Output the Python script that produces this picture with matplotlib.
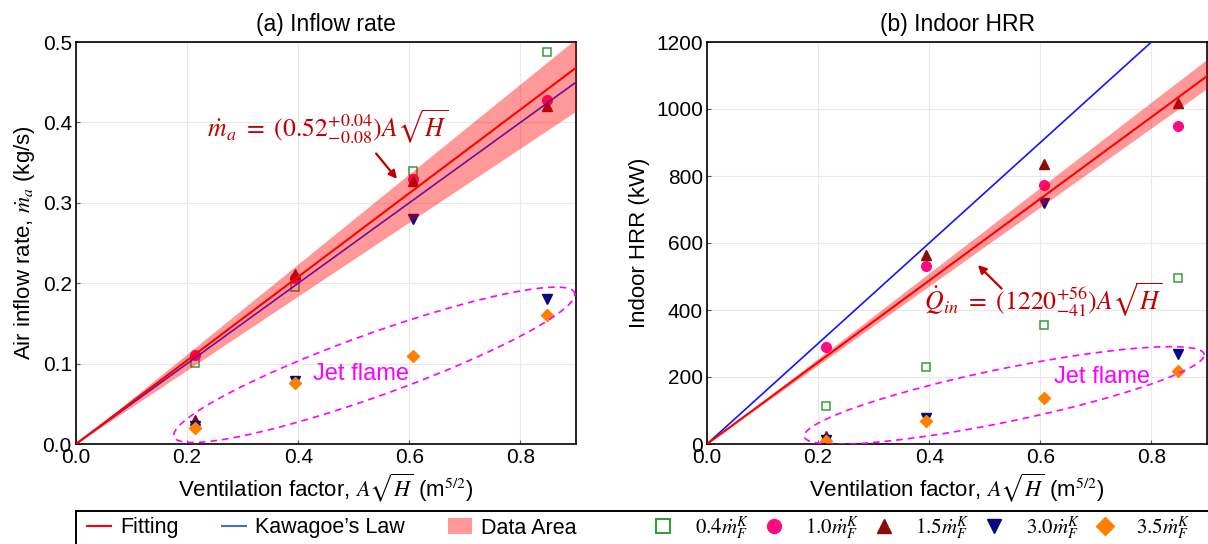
import numpy as np
import matplotlib
matplotlib.use("Agg")
import matplotlib.pyplot as plt
from matplotlib.lines import Line2D
from matplotlib.patches import Patch, Rectangle

plt.rcParams["font.family"] = ["Liberation Sans", "DejaVu Sans"]
plt.rcParams["mathtext.fontset"] = "stix"

# Ventilation factor A*sqrt(H) (m^5/2)
vf = [0.215, 0.395, 0.607, 0.848]

# (a) air inflow rate (kg/s)
ma_04 = [0.101, 0.195, 0.339, 0.488]
ma_10 = [0.111, 0.207, 0.330, 0.428]
ma_15 = [0.030, 0.211, 0.327, 0.420]
ma_30 = [0.022, 0.078, 0.280, 0.180]
ma_35 = [0.020, 0.076, 0.110, 0.161]

# (b) indoor HRR (kW)
q_04 = [113, 230, 355, 495]
q_10 = [289, 532, 773, 948]
q_15 = [24, 565, 835, 1018]
q_30 = [12, 78, 718, 269]
q_35 = [9, 69, 137, 219]

# fitted coefficients and Kawagoe's law
fit_a, fit_a_lo, fit_a_hi = 0.52, 0.46, 0.56
kaw_a = 0.5
fit_b, fit_b_lo, fit_b_hi = 1220, 1179, 1276
kaw_b = 1500

series_labels = [r"$0.4\dot{m}_F^K$", r"$1.0\dot{m}_F^K$", r"$1.5\dot{m}_F^K$",
                 r"$3.0\dot{m}_F^K$", r"$3.5\dot{m}_F^K$"]
styles = [
    dict(marker="s", mfc="none", mec="#3a9a3a", ms=6, mew=1.1),
    dict(marker="o", mfc="#ff0a7f", mec="#ff0a7f", ms=7),
    dict(marker="^", mfc="#8b0a0a", mec="#8b0a0a", ms=7),
    dict(marker="v", mfc="#0a0a80", mec="#0a0a80", ms=7),
    dict(marker="D", mfc="#ff8000", mec="#ff8000", ms=6.5),
]

RED = "#ff0000"
BAND = "#ff0000"
BLUE = "#1414ff"
DARKRED = "#c00000"
MAGENTA = "#ff00ff"

fig = plt.figure(figsize=(12.08, 5.44), dpi=100)
ax1 = fig.add_axes([76 / 1208, 100 / 544, 500 / 1208, 402 / 544])
ax2 = fig.add_axes([707 / 1208, 100 / 544, 500 / 1208, 402 / 544])

xx = np.linspace(0, 0.9, 50)


def draw_panel(ax, ys, fit, lo, hi, kaw):
    for y, st in zip(ys, styles):
        ax.plot(vf, y, ls="none", zorder=2, **st)
    ax.plot(xx, kaw * xx, color=BLUE, lw=1.2, zorder=3)
    ax.fill_between(xx, lo * xx, hi * xx, color=BAND, alpha=0.4, lw=0, zorder=4)
    ax.plot(xx, fit * xx, color=RED, lw=1.5, zorder=5)
    ax.grid(True, color="#e8e8e8", lw=0.8)
    ax.set_axisbelow(True)
    ax.tick_params(direction="in", length=3, labelsize=15, color="#555555", pad=3)
    for s in ax.spines.values():
        s.set_linewidth(1.2)
    ax.set_xlim(0, 0.9)
    ax.set_xticks([0.0, 0.2, 0.4, 0.6, 0.8])
    ax.set_xticklabels(["0.0", "0.2", "0.4", "0.6", "0.8"])
    ax.set_xlabel(r"Ventilation factor, $A\sqrt{H}$ (m$^{5/2}$)", fontsize=16, labelpad=3)


def jet_ellipse(ax, c, u, v):
    t = np.linspace(0, 2 * np.pi, 300)
    ex = c[0] + u[0] * np.cos(t) + v[0] * np.sin(t)
    ey = c[1] + u[1] * np.cos(t) + v[1] * np.sin(t)
    ax.plot(ex, ey, color=MAGENTA, lw=1.2, dashes=(4, 3), zorder=6)


draw_panel(ax1, [ma_04, ma_10, ma_15, ma_30, ma_35], fit_a, fit_a_lo, fit_a_hi, kaw_a)
ax1.set_ylim(0, 0.5)
ax1.set_yticks(np.arange(0, 0.51, 0.1))
ax1.set_yticklabels(["0.0", "0.1", "0.2", "0.3", "0.4", "0.5"])
ax1.set_ylabel(r"Air inflow rate, $\dot{m}_a$ (kg/s)", fontsize=16, labelpad=4)
ax1.set_title("(a) Inflow rate", fontsize=16.5, pad=8)
jet_ellipse(ax1, (0.537, 0.0985), (0.361, 0.0875), (0.0, 0.041))
ax1.text(0.513, 0.087, "Jet flame", color=MAGENTA, fontsize=17, ha="center", va="center")
ax1.text(0.236, 0.395, r"$\dot{m}_a\ =\ (0.52^{+0.04}_{-0.08})A\sqrt{H}$",
         color=DARKRED, fontsize=18.5, ha="left", va="center")
ax1.annotate("", xy=(0.581, 0.327), xytext=(0.537, 0.364),
             arrowprops=dict(arrowstyle="-|>", color=DARKRED, lw=1.6, mutation_scale=12))

draw_panel(ax2, [q_04, q_10, q_15, q_30, q_35], fit_b, fit_b_lo, fit_b_hi, kaw_b)
ax2.set_ylim(0, 1200)
ax2.set_yticks(np.arange(0, 1201, 200))
ax2.set_ylabel("Indoor HRR (kW)", fontsize=16, labelpad=4)
ax2.set_title("(b) Indoor HRR", fontsize=16.5, pad=8)
jet_ellipse(ax2, (0.535, 145), (0.36, 121), (0.0, 81))
ax2.text(0.711, 200, "Jet flame", color=MAGENTA, fontsize=17, ha="center", va="center")
ax2.text(0.39, 430, r"$\dot{Q}_{in}\ =\ (1220^{+56}_{-41})A\sqrt{H}$",
         color=DARKRED, fontsize=18.5, ha="left", va="center")
ax2.annotate("", xy=(0.484, 540), xytext=(0.534, 458),
             arrowprops=dict(arrowstyle="-|>", color=DARKRED, lw=1.6, mutation_scale=12))

# legend frame across the bottom
fig.patches.append(Rectangle((76 / 1208, -0.02), 1.0, 0.02 + 33 / 544, transform=fig.transFigure,
                             fill=False, ec="black", lw=1.4))

line_handles = [Line2D([], [], color=RED, lw=1.5),
                Line2D([], [], color="#4472c4", lw=1.5),
                Patch(fc="#ff9999", ec="none")]
fig.legend(line_handles, ["Fitting", "Kawagoe\u2019s Law", "Data Area"], ncol=3,
           loc="center left", bbox_to_anchor=(87 / 1208, 16 / 544), frameon=False,
           fontsize=15.5, handlelength=1.1, handletextpad=0.45, columnspacing=2.0,
           borderpad=0, borderaxespad=0)

mk_handles = []
for st in styles:
    s = dict(st)
    s["ms"] = 10 if st["marker"] != "D" else 9
    if st["marker"] == "s":
        s["mew"] = 1.5
    mk_handles.append(Line2D([], [], ls="none", **s))
fig.legend(mk_handles, series_labels, ncol=5,
           loc="center left", bbox_to_anchor=(653 / 1208, 16 / 544), frameon=False,
           fontsize=15, handlelength=1.0, handletextpad=1.0, columnspacing=0.7,
           borderpad=0, borderaxespad=0)

fig.savefig("out.png", dpi=100)
